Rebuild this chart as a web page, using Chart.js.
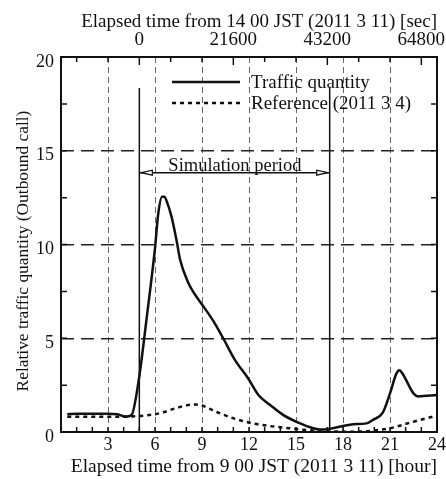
<!DOCTYPE html>
<html><head><meta charset="utf-8">
<script src="https://cdn.jsdelivr.net/npm/chart.js@4"></script>
<style>html,body{margin:0;padding:0;background:#fff}</style>
</head><body>
<canvas id="c" width="446" height="479"></canvas>
<script>
// ---- data (hours from 9:00 JST, 2011/3/11) ----
const hoursTraffic = [0.4,1,2,3,3.6,4.1,4.5,4.95,5.5,6.0,6.2,6.45,6.6,6.75,7.05,7.38,7.6,8.1,8.5,9.0,9.7,10.35,11.1,11.95,12.6,13.35,14.2,15.15,16.1,16.5,17.0,18.0,18.65,19.5,19.9,20.55,21.0,21.4,21.6,21.85,22.5,22.8,24];
const traffic      = [0.95,0.97,0.97,0.97,0.95,0.82,0.9,2.7,6.3,9.8,11.6,12.55,12.55,12.3,11.5,10.2,9.2,8.0,7.4,6.8,5.95,5.0,3.85,2.85,1.97,1.44,0.9,0.5,0.2,0.14,0.15,0.32,0.41,0.46,0.64,1.05,2.06,3.1,3.3,3.04,2.06,1.9,1.97];
const hoursRef     = [0.4,1,2,3,4,5.25,6.3,7.3,8.0,8.5,9.0,9.9,11.0,12.3,13.5,14.6,15.7,16.7,18.0,18.9,20.0,21.0,22.5,23.9];
const reference    = [0.82,0.82,0.82,0.82,0.82,0.87,1.0,1.26,1.42,1.47,1.41,1.08,0.73,0.45,0.3,0.2,0.1,0.03,0.02,0.02,0.08,0.2,0.55,0.85];
const seriesNames  = ['Traffic quantity','Reference (2011 3 4)'];
const bottomTicks  = [3,6,9,12,15,18,21,24];
const topTicksSec  = [0,21600,43200,64800];
const yTicks       = [0,5,10,15,20];
const simPeriod    = [5,17.15];      // hours
const simMarkerTop = 18.35;
const simArrowY    = 13.83;
const simLabel     = 'Simulation period';

const FONT = 'Liberation Serif, Times New Roman, serif';
const INK = '#111';
const pts = (xs, ys) => xs.map((x,i)=>({x, y: ys[i]}));

const decor = {
  id: 'decor',
  afterDraw(chart) {
    const {ctx, chartArea: a, scales} = chart;
    const x = scales.x, y = scales.y, x2 = scales.x2;
    ctx.save();
    ctx.strokeStyle = INK; ctx.lineWidth = 1.5; ctx.setLineDash([]);
    ctx.beginPath();
    for (let h = 1; h < 24; h++) { const px = x.getPixelForValue(h); ctx.moveTo(px, a.bottom); ctx.lineTo(px, a.bottom - 5); }
    for (let s = -14400; s <= 64800; s += 7200) {
      const px = x2.getPixelForValue(s); const L = (s % 21600 === 0) ? 8 : 5;
      ctx.moveTo(px, a.top); ctx.lineTo(px, a.top + L);
    }
    for (let v = 2.5; v < 20; v += 2.5) {
      const py = y.getPixelForValue(v);
      ctx.moveTo(a.left, py); ctx.lineTo(a.left + 6, py);
      ctx.moveTo(a.right, py); ctx.lineTo(a.right - 6, py);
    }
    ctx.stroke();
    ctx.lineWidth = 2;
    ctx.strokeRect(a.left, a.top, a.right - a.left, a.bottom - a.top);
    // arrow heads
    const m = chart.getDatasetMeta(4);
    const p0 = m.data[0], p1 = m.data[1];
    ctx.lineWidth = 1.2; ctx.fillStyle = '#fff';
    const head = (tx, ty, dir) => {
      ctx.beginPath(); ctx.moveTo(tx, ty); ctx.lineTo(tx + dir*11, ty - 2.5); ctx.lineTo(tx + dir*11, ty + 2.5); ctx.closePath(); ctx.fill(); ctx.stroke();
    };
    head(p0.x + 2, p0.y, 1); head(p1.x - 2, p1.y, -1);
    // label
    ctx.fillStyle = INK; ctx.font = '18.5px ' + FONT; ctx.textAlign = 'center'; ctx.textBaseline = 'alphabetic';
    ctx.fillText(simLabel, x.getPixelForValue(11.1), p0.y - 2);
    // legend
    const lx0 = a.left + 111, lx1 = a.left + 179, tx = a.left + 190;
    const rows = [[0, a.top + 25], [1, a.top + 46]];
    ctx.font = '19px ' + FONT;
    ctx.textAlign = 'left'; ctx.textBaseline = 'middle';
    rows.forEach(([i, ly]) => {
      const ds = chart.data.datasets[i];
      ctx.strokeStyle = ds.borderColor; ctx.lineWidth = ds.borderWidth; ctx.setLineDash(ds.borderDash || []);
      ctx.beginPath(); ctx.moveTo(lx0, ly); ctx.lineTo(lx1, ly); ctx.stroke();
      ctx.setLineDash([]); ctx.fillStyle = INK;
      ctx.fillText(ds.label, tx, ly + 1);
    });
    ctx.restore();
  }
};

new Chart(document.getElementById('c'), {
  type: 'line',
  data: { datasets: [
    { label: seriesNames[0], data: pts(hoursTraffic, traffic), borderColor: INK, borderWidth: 2.5, pointRadius: 0, cubicInterpolationMode: 'monotone', xAxisID: 'x', yAxisID: 'y' },
    { label: seriesNames[1], data: pts(hoursRef, reference), borderColor: INK, borderWidth: 2.5, borderDash: [4,4], pointRadius: 0, cubicInterpolationMode: 'monotone', xAxisID: 'x', yAxisID: 'y' },
    { label: 'start', data: [{x: simPeriod[0], y: 0}, {x: simPeriod[0], y: simMarkerTop}], borderColor: INK, borderWidth: 1.5, pointRadius: 0, xAxisID: 'x', yAxisID: 'y' },
    { label: 'end', data: [{x: simPeriod[1], y: 0}, {x: simPeriod[1], y: simMarkerTop}], borderColor: INK, borderWidth: 1.5, pointRadius: 0, xAxisID: 'x', yAxisID: 'y' },
    { label: 'arrow', data: [{x: simPeriod[0], y: simArrowY}, {x: simPeriod[1], y: simArrowY}], borderColor: INK, borderWidth: 1.5, pointRadius: 0, xAxisID: 'x', yAxisID: 'y' }
  ]},
  options: {
    responsive: false, devicePixelRatio: 1, animation: false,
    layout: { padding: 0 },
    plugins: { legend: { display: false }, tooltip: { enabled: false } },
    scales: {
      x: { type: 'linear', position: 'bottom', min: 0, max: 24,
        afterBuildTicks: s => { s.ticks = bottomTicks.map(v => ({value: v})); },
        ticks: { font: {family: FONT, size: 18}, color: INK, padding: 2, maxRotation: 0, autoSkip: false },
        grid: { drawTicks: false, lineWidth: 1, color: c => (c.tick && c.tick.value > 0 && c.tick.value < 24) ? '#666' : 'rgba(0,0,0,0)' },
        border: { display: false, dash: [6,4] },
        title: { display: true, text: 'Elapsed time from 9 00 JST (2011 3 11) [hour]', align: 'end', color: INK, font: {family: FONT, size: 19.5}, padding: {top: 0, bottom: 0} },
        afterFit: s => { s.height = 47; s.paddingLeft = 0; s.paddingRight = 0; }
      },
      x2: { type: 'linear', position: 'top', min: -18000, max: 68400,
        afterBuildTicks: s => { s.ticks = topTicksSec.map(v => ({value: v})); },
        ticks: { font: {family: FONT, size: 19}, color: INK, padding: 6, maxRotation: 0, autoSkip: false, callback: v => String(v) },
        grid: { drawOnChartArea: false, drawTicks: false },
        border: { display: false },
        title: { display: true, text: 'Elapsed time from 14 00 JST (2011 3 11) [sec]', align: 'end', color: INK, font: {family: FONT, size: 19}, padding: {top: 11, bottom: 0} },
        afterFit: s => { s.height = 57; s.paddingLeft = 0; s.paddingRight = 0; }
      },
      y: { type: 'linear', position: 'left', min: 0, max: 20,
        afterBuildTicks: s => { s.ticks = yTicks.map(v => ({value: v})); },
        ticks: { font: {family: FONT, size: 18}, color: INK, padding: 7, labelOffset: 5 },
        grid: { drawTicks: false, lineWidth: 1.5, color: c => (c.tick && c.tick.value > 0 && c.tick.value < 20) ? '#222' : 'rgba(0,0,0,0)' },
        border: { display: false, dash: [13,7] },
        title: { display: true, text: 'Relative traffic quantity (Outbound call)   ', color: INK, font: {family: FONT, size: 17.4}, padding: {top: 13, bottom: 0} },
        afterFit: s => { s.width = 61; s.paddingTop = 0; s.paddingBottom = 0; }
      },
      y2: { type: 'linear', position: 'right', min: 0, max: 20,
        ticks: { display: false }, grid: { display: false }, border: { display: false },
        afterFit: s => { s.width = 9; s.paddingTop = 0; s.paddingBottom = 0; }
      }
    }
  },
  plugins: [decor]
});
</script>
</body></html>
